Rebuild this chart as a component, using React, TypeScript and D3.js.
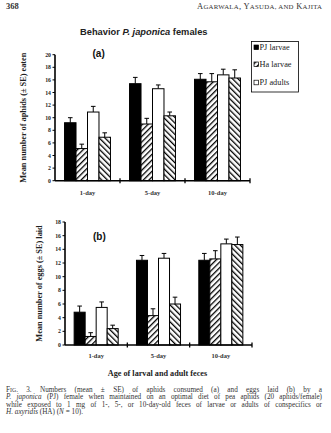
import React from "react";
import * as d3 from "d3";

const groups = ["1-day", "5-day", "10-day"];
const series = ["PJ larvae", "Ha larvae", "PJ adults", "Ha adults"];
const legendItems = ["PJ larvae", "Ha larvae", "PJ adults"];

// panel (a): aphids eaten
const eatenMean = [
  [9.2, 5.1, 10.9, 6.9],
  [15.4, 9.0, 14.6, 10.3],
  [16.1, 15.7, 16.8, 16.3],
];
const eatenTop = [
  [10.0, 5.8, 11.8, 7.6],
  [16.4, 9.9, 15.2, 10.9],
  [17.0, 17.0, 17.7, 17.6],
];
// panel (b): eggs laid
const eggsMean = [
  [4.8, 1.25, 5.5, 2.4],
  [12.4, 4.3, 12.7, 6.0],
  [12.4, 12.6, 14.8, 14.7],
];
const eggsTop = [
  [5.7, 1.8, 6.3, 2.9],
  [13.1, 5.3, 13.4, 7.0],
  [13.4, 13.8, 15.5, 15.8],
];
const eatenTicks = [0, 2, 4, 6, 8, 10, 12, 14, 16, 18, 20];
const eggsTicks = [0, 2, 4, 6, 8, 10, 12, 14, 16, 18];

const serif = "'Liberation Serif', 'DejaVu Serif', serif";
const sans = "'Liberation Sans', Arial, sans-serif";

const fills = ["#000", "url(#hatchF)", "#fff", "url(#hatchB)"];

type Seg = { t: string; size?: number; italic?: boolean };
const CAP = 7.2;
const captionLines: Seg[][] = [
  [{ t: "F" }, { t: "IG", size: 5.8 }, { t: ". 3. Numbers (mean ± SE) of aphids consumed (a) and eggs laid (b) by a" }],
  [{ t: "P. japonica", italic: true }, { t: " (PJ) female when maintained on an optimal diet of pea aphids (20 aphids/female)" }],
  [{ t: "while exposed to 1 mg of 1-, 5-, or 10-day-old feces of larvae or adults of conspecifics or" }],
];

function measure(segs: Seg[]): { width: number; spaces: number } {
  let width = 0;
  let spaces = 0;
  try {
    const c = document.createElement("canvas").getContext("2d") as CanvasRenderingContext2D;
    for (const s of segs) {
      c.font = `${s.italic ? "italic " : ""}${s.size ?? CAP}px 'Liberation Serif'`;
      width += c.measureText(s.t).width;
      spaces += (s.t.match(/ /g) || []).length;
    }
  } catch (e) {
    width = 300;
  }
  return { width, spaces };
}

function Justified({ segs, x, y, w }: { segs: Seg[]; x: number; y: number; w: number }) {
  const { width, spaces } = measure(segs);
  const ws = spaces > 0 ? (w - width) / spaces : 0;
  return (
    <text x={x} y={y} style={{ wordSpacing: `${ws}px` }}>
      {segs.map((s, i) => (
        <tspan key={i} fontSize={s.size ?? CAP} fontStyle={s.italic ? "italic" : undefined}>
          {s.t}
        </tspan>
      ))}
    </text>
  );
}

type PanelProps = {
  x0: number; x1: number; y0: number; y1: number; ymax: number;
  means: number[][]; tops: number[][]; ticks: number[];
  label: string; labelX: number; labelSize: number; tag: string; tagX: number; tagY: number; xLabelY: number;
};

function Panel(p: PanelProps) {
  const y = d3.scaleLinear().domain([0, p.ymax]).range([p.y0, p.y1]);
  const gx = d3.scaleBand().domain(groups).range([p.x0, p.x1]).padding(0);
  const sx = d3.scaleBand().domain(series).range([0, gx.bandwidth()]).paddingInner(0).paddingOuter(0.83);
  const cap = 2.3;
  return (
    <g>
      {groups.map((g, gi) =>
        series.map((s, si) => {
          const bx = (gx(g) as number) + (sx(s) as number);
          const bw = sx.bandwidth();
          const top = y(p.means[gi][si]);
          const et = y(p.tops[gi][si]);
          const cx = bx + bw / 2;
          return (
            <g key={g + s}>
              <line x1={cx} x2={cx} y1={top} y2={et} stroke="#000" strokeWidth={1} />
              <line x1={cx - cap} x2={cx + cap} y1={et} y2={et} stroke="#000" strokeWidth={1} />
              <rect x={bx} y={top} width={bw} height={p.y0 - top} fill={fills[si]} stroke="#000" strokeWidth={1} />
            </g>
          );
        })
      )}
      {/* y axis */}
      <line x1={p.x0} x2={p.x0} y1={p.y0} y2={y(p.ymax)} stroke="#000" strokeWidth={1.6} />
      {p.ticks.map((t) => (
        <g key={t}>
          <line x1={p.x0 - 2.5} x2={p.x0} y1={y(t)} y2={y(t)} stroke="#000" strokeWidth={1} />
          <text x={p.x0 - 4} y={y(t)} dy="0.35em" textAnchor="end" fontFamily={serif} fontSize={5.8} fontWeight="bold" fill="#222">
            {t}
          </text>
        </g>
      ))}
      {/* x axis */}
      <line x1={p.x0} x2={p.x1} y1={p.y0} y2={p.y0} stroke="#000" strokeWidth={1.6} />
      {[...groups.map((g) => gx(g) as number).slice(1), p.x1].map((xx, i) => (
        <line key={i} x1={xx} x2={xx} y1={p.y0 - 2.5} y2={p.y0 + 2.5} stroke="#000" strokeWidth={1.3} />
      ))}
      {groups.map((g) => (
        <text key={g} x={(gx(g) as number) + gx.bandwidth() / 2} y={p.xLabelY} textAnchor="middle" fontFamily={serif} fontSize={6.5} fontWeight="bold" fill="#333">
          {g}
        </text>
      ))}
      <text
        transform={`translate(${p.labelX},${(p.y0 + y(p.ymax)) / 2}) rotate(-90)`}
        textAnchor="middle"
        fontFamily={serif}
        fontSize={p.labelSize}
        fontWeight="bold"
        fill="#222"
      >
        {p.label}
      </text>
      <text x={p.tagX} y={p.tagY} fontFamily={sans} fontSize={10} fontWeight="bold" fill="#111">
        {p.tag}
      </text>
    </g>
  );
}

export default function App() {
  return (
    <svg width={331} height={433} style={{ position: "absolute", left: 0, top: 0, background: "#fff" }}>
      <defs>
        <pattern id="hatchF" patternUnits="userSpaceOnUse" width={4} height={4} patternTransform="rotate(45)">
          <rect width={4} height={4} fill="#fff" />
          <line x1={0} y1={0} x2={0} y2={4} stroke="#000" strokeWidth={2.6} />
        </pattern>
        <pattern id="hatchB" patternUnits="userSpaceOnUse" width={4} height={4} patternTransform="rotate(-45)">
          <rect width={4} height={4} fill="#fff" />
          <line x1={0} y1={0} x2={0} y2={4} stroke="#000" strokeWidth={2.6} />
        </pattern>
      </defs>
      <text x={6} y={8.5} fontFamily={serif} fontSize={8.5} fontWeight="bold" fill="#333">368</text>
      <text x={322} y={8.5} textAnchor="end" fontFamily={serif} fontSize={8.5} fill="#333" textLength={125} lengthAdjust="spacing">
        A<tspan fontSize={6.8}>GARWALA</tspan>, Y<tspan fontSize={6.8}>ASUDA, AND</tspan> K<tspan fontSize={6.8}>AJITA</tspan>
      </text>
      <text x={80} y={34.5} fontFamily={sans} fontSize={9.3} fontWeight="bold" fill="#222">
        Behavior <tspan fontStyle="italic">P. japonica</tspan> females
      </text>

      <Panel x0={55} x1={250} y0={180.7} y1={54.7} ymax={20} means={eatenMean} tops={eatenTop} ticks={eatenTicks}
        label="Mean number of aphids (± SE) eaten" labelX={26} labelSize={8.3} tag="(a)" tagX={92.5} tagY={57} xLabelY={194.5} />
      <Panel x0={65} x1={252} y0={345} y1={222} ymax={18} means={eggsMean} tops={eggsTop} ticks={eggsTicks}
        label="Mean number of eggs (± SE) laid" labelX={42} labelSize={8.3} tag="(b)" tagX={93} tagY={239.5} xLabelY={357.5} />

      {/* legend */}
      <rect x={251.5} y={41.5} width={47} height={50.5} fill="#fff" stroke="#000" strokeWidth={0.8} />
      {legendItems.map((l, i) => {
        const ly = [47.3, 64.3, 82.5][i];
        return (
          <g key={l}>
            <rect x={254} y={ly - 2.3} width={4.6} height={4.6} fill={fills[i]} stroke="#000" strokeWidth={0.7} />
            <text x={259.5} y={ly} dy="0.35em" fontFamily={serif} fontSize={8.3} fill="#222">{l}</text>
          </g>
        );
      })}

      <text x={157.5} y={376} textAnchor="middle" fontFamily={serif} fontSize={8.2} fontWeight="bold" fill="#222">
        Age of larval and adult feces
      </text>

      <g fontFamily={serif} fontSize={CAP} fill="#333">
        {captionLines.map((segs, i) => (
          <Justified key={i} segs={segs} x={6} y={391.5 + i * 7.5} w={316} />
        ))}
        <text x={6} y={414}>
          <tspan fontStyle="italic">H. axyridis</tspan> (HA) (<tspan fontStyle="italic">N</tspan> = 10).
        </text>
      </g>
    </svg>
  );
}
